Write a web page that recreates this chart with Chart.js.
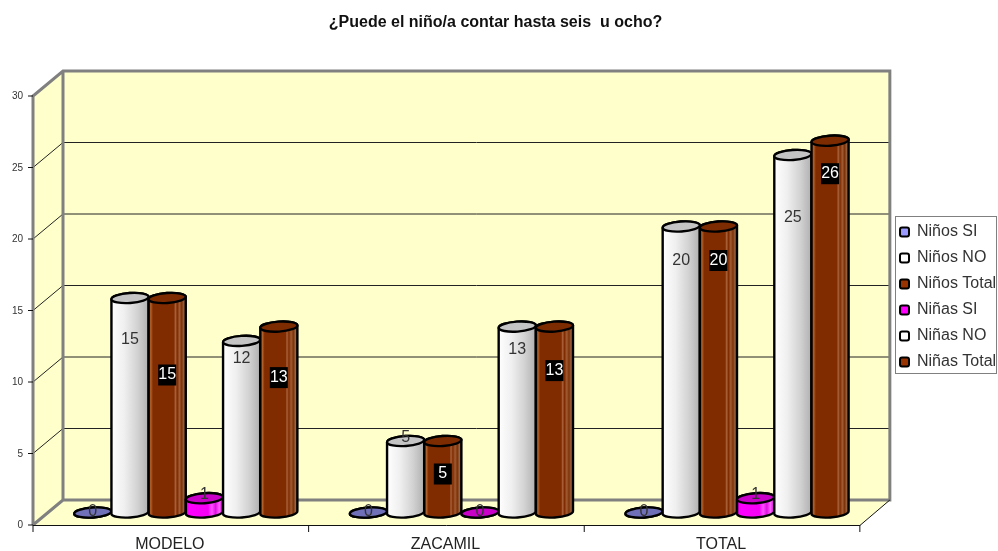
<!DOCTYPE html>
<html>
<head>
<meta charset="utf-8">
<title>¿Puede el niño/a contar hasta seis u ocho?</title>
<script src="https://cdn.jsdelivr.net/npm/chart.js@4/dist/chart.umd.min.js"></script>
<style>
    html, body { margin: 0; padding: 0; background: #fff; }
    canvas { display: block; }
</style>
</head>
<body>
<canvas id="chart" width="998" height="551"></canvas>
<script>
var categories = ['MODELO', 'ZACAMIL', 'TOTAL'];

var ninosSi = [0, 0, 0];
var ninosNo = [15, 5, 20];
var ninosTotal = [15, 5, 20];
var ninasSi = [1, 0, 1];
var ninasNo = [12, 13, 25];
var ninasTotal = [13, 13, 26];

var titleText = '¿Puede el niño/a contar hasta seis  u ocho?';
var fontName = '"Liberation Sans", Arial, sans-serif';

//how far each value label sits below the top of its bar, one row per series
var labelDrop = [
    [-1, -1, -1],
    [42, -3, 34],
    [77, 33, 34],
    [-4, -1, -4],
    [18, 23, 63],
    [51, 44, 33]
];

//gradient stops across the cylinder
var whiteStops = [[0, '#ffffff'], [0.35, '#efefef'], [0.7, '#d2d2d2'], [1, '#b0b0b0']];
var brownStops = [[0, '#8a3408'], [0.06, '#b0602a'], [0.12, '#802b00'], [0.68, '#802b00'], [0.72, '#a8623a'],
    [0.77, '#802b00'], [0.83, '#a05c34'], [0.89, '#7d3208'], [0.95, '#9a6644'], [1, '#6e3414']];
var magentaStops = [[0, '#ff00ff'], [0.6, '#f400f4'], [0.7, '#ff50ff'], [0.8, '#e010e0'], [0.9, '#ff60ff'], [1, '#c800c8']];
var blueStops = [[0, '#7474c4'], [1, '#5c5ca8']];

var series = [
    { label: 'Niños SI', data: ninosSi, color: '#9999ff', stops: blueStops, cap: '#6f70b8', boxed: false },
    { label: 'Niños NO', data: ninosNo, color: '#ffffff', stops: whiteStops, cap: '#c4c4c4', boxed: false },
    { label: 'Niños Total', data: ninosTotal, color: '#993300', stops: brownStops, cap: '#7c2c00', boxed: true },
    { label: 'Niñas SI', data: ninasSi, color: '#ff00ff', stops: magentaStops, cap: '#c800c8', boxed: false },
    { label: 'Niñas NO', data: ninasNo, color: '#ffffff', stops: whiteStops, cap: '#c4c4c4', boxed: false },
    { label: 'Niñas Total', data: ninasTotal, color: '#993300', stops: brownStops, cap: '#7c2c00', boxed: true }
];

var DEPTH_X = 15;
var DEPTH_Y = 12.5;

//back wall, side wall and floor, all hung off the y scale
var wallsPlugin = {
    id: 'walls',
    beforeDatasetsDraw: function(chart){
        var ctx = chart.ctx;
        var x = chart.scales.x;
        var y = chart.scales.y;
        var y0 = y.getPixelForValue(0);
        var yTop = y.getPixelForValue(30);
        var backL = x.left + DEPTH_X, backR = x.right + DEPTH_X;
        var frontL = x.left - DEPTH_X, frontR = x.right - DEPTH_X;

        ctx.save();
        ctx.fillStyle = '#ffffcc';
        ctx.beginPath();
        ctx.moveTo(frontL, y0 + DEPTH_Y);
        ctx.lineTo(frontL, yTop + DEPTH_Y);
        ctx.lineTo(backL, yTop - DEPTH_Y);
        ctx.lineTo(backR, yTop - DEPTH_Y);
        ctx.lineTo(backR, y0 - DEPTH_Y);
        ctx.lineTo(frontR, y0 + DEPTH_Y);
        ctx.closePath();
        ctx.fill();

        //grid lines
        ctx.strokeStyle = '#222';
        ctx.lineWidth = 1;
        y.ticks.forEach(function(tick){
            if(tick.value === 0 || tick.value === 30) return;
            var py = y.getPixelForValue(tick.value);
            ctx.beginPath();
            ctx.moveTo(frontL, py + DEPTH_Y);
            ctx.lineTo(backL, py - DEPTH_Y);
            ctx.lineTo(backR, py - DEPTH_Y);
            ctx.stroke();
        });

        //gray frame
        ctx.strokeStyle = '#808080';
        ctx.lineWidth = 3;
        ctx.beginPath();
        ctx.moveTo(frontL, y0 + DEPTH_Y);
        ctx.lineTo(frontL, yTop + DEPTH_Y);
        ctx.lineTo(backL, yTop - DEPTH_Y);
        ctx.lineTo(backR, yTop - DEPTH_Y);
        ctx.lineTo(backR, y0 - DEPTH_Y);
        ctx.lineTo(backL, y0 - DEPTH_Y);
        ctx.lineTo(backL, yTop - DEPTH_Y);
        ctx.moveTo(backL, y0 - DEPTH_Y);
        ctx.lineTo(frontL, y0 + DEPTH_Y);
        ctx.stroke();

        //front edges and tick marks
        ctx.strokeStyle = '#111';
        ctx.lineWidth = 1;
        ctx.beginPath();
        ctx.moveTo(frontL, y0 + DEPTH_Y + 0.5);
        ctx.lineTo(frontR, y0 + DEPTH_Y + 0.5);
        ctx.lineTo(backR, y0 - DEPTH_Y);
        for(var i = 0; i <= categories.length; i++){
            var tx = frontL + i * (x.right - x.left) / categories.length;
            ctx.moveTo(tx, y0 + DEPTH_Y);
            ctx.lineTo(tx, y0 + DEPTH_Y + 7);
        }
        y.ticks.forEach(function(tick){
            var py = y.getPixelForValue(tick.value) + DEPTH_Y;
            ctx.moveTo(frontL - 5, py);
            ctx.lineTo(frontL, py);
        });
        ctx.stroke();
        ctx.restore();
    }
};

function drawCylinder(ctx, bar, info){
    var rx = bar.width / 2;
    var ry = 5;
    var tilt = -0.07;
    var left = bar.x - rx;
    var grad = ctx.createLinearGradient(left, 0, left + bar.width, 0);
    info.stops.forEach(function(s){ grad.addColorStop(s[0], s[1]); });

    ctx.save();
    ctx.strokeStyle = '#000';
    ctx.lineWidth = 2.4;
    ctx.fillStyle = grad;
    ctx.beginPath();
    ctx.ellipse(bar.x, bar.y, rx, ry, tilt, Math.PI, 0, false);
    ctx.ellipse(bar.x, bar.base, rx, ry, tilt, 0, Math.PI, false);
    ctx.closePath();
    ctx.fill();
    ctx.stroke();

    ctx.fillStyle = info.cap;
    ctx.beginPath();
    ctx.ellipse(bar.x, bar.y, rx, ry, tilt, 0, Math.PI * 2);
    ctx.fill();
    ctx.stroke();
    ctx.restore();
}

//turns each library bar into a cylinder using the element's own position, then writes the values
var cylinderPlugin = {
    id: 'cylinder',
    afterDatasetsDraw: function(chart){
        var ctx = chart.ctx;
        series.forEach(function(info, s){
            chart.getDatasetMeta(s).data.forEach(function(bar){
                drawCylinder(ctx, bar, info);
            });
        });

        ctx.save();
        ctx.font = '16px ' + fontName;
        ctx.textAlign = 'center';
        ctx.textBaseline = 'middle';
        series.forEach(function(info, s){
            chart.getDatasetMeta(s).data.forEach(function(bar, c){
                var ly = bar.y + labelDrop[s][c];
                if(info.boxed){
                    ctx.fillStyle = '#000';
                    ctx.fillRect(bar.x - 9, ly - 10.5, 18, 21);
                    ctx.fillStyle = '#fff';
                }else{
                    ctx.fillStyle = '#333';
                }
                ctx.fillText(String(info.data[c]), bar.x, ly);
            });
        });
        ctx.restore();
    }
};

//the legend is moved to its own spot after layout and gets a frame
var legendFramePlugin = {
    id: 'legendFrame',
    afterLayout: function(chart){
        var lg = chart.legend;
        lg.left = 890;
        lg.top = 214;
        lg.right = 997;
        lg.bottom = 400;
        lg.width = 107;
        lg.height = 186;
    },
    beforeDraw: function(chart){
        var ctx = chart.ctx;
        ctx.save();
        ctx.strokeStyle = '#808080';
        ctx.lineWidth = 1;
        ctx.strokeRect(895.5, 216.5, 101, 157);
        ctx.restore();
    }
};

new Chart(document.getElementById('chart'), {
    type: 'bar',
    data: {
        labels: categories,
        datasets: series.map(function(info){
            return {
                label: info.label,
                data: info.data,
                backgroundColor: info.color,
                borderColor: '#000',
                borderWidth: 2
            };
        })
    },
    plugins: [wallsPlugin, cylinderPlugin, legendFramePlugin],
    options: {
        responsive: false,
        animation: false,
        layout: { padding: { right: 7 } },
        datasets: { bar: { barPercentage: 1, categoryPercentage: 0.81 } },
        plugins: {
            tooltip: { enabled: false },
            title: {
                display: true,
                text: titleText,
                color: '#111',
                font: { family: fontName, size: 16, weight: 'bold' },
                padding: { top: 13.4, bottom: 50.9 }
            },
            legend: {
                position: 'right',
                align: 'start',
                labels: {
                    color: '#333',
                    font: { family: fontName, size: 16 },
                    boxWidth: 9,
                    boxHeight: 9,
                    padding: 10,
                    useBorderRadius: true,
                    borderRadius: 2
                }
            }
        },
        scales: {
            x: {
                grid: { display: false, drawTicks: false },
                border: { display: false },
                afterFit: function(scale){ scale.height = 38.5; },
                ticks: {
                    color: '#222',
                    font: { family: fontName, size: 16 },
                    padding: 22,
                    labelOffset: -16,
                    maxRotation: 0,
                    autoSkip: false
                }
            },
            y: {
                min: 0,
                max: 30,
                grid: { display: false, drawTicks: false },
                border: { display: false },
                afterFit: function(scale){ scale.width = 48; },
                ticks: {
                    stepSize: 5,
                    color: '#333',
                    font: { family: fontName, size: 10 },
                    padding: 25,
                    labelOffset: 13
                }
            }
        }
    }
});
</script>
</body>
</html>
